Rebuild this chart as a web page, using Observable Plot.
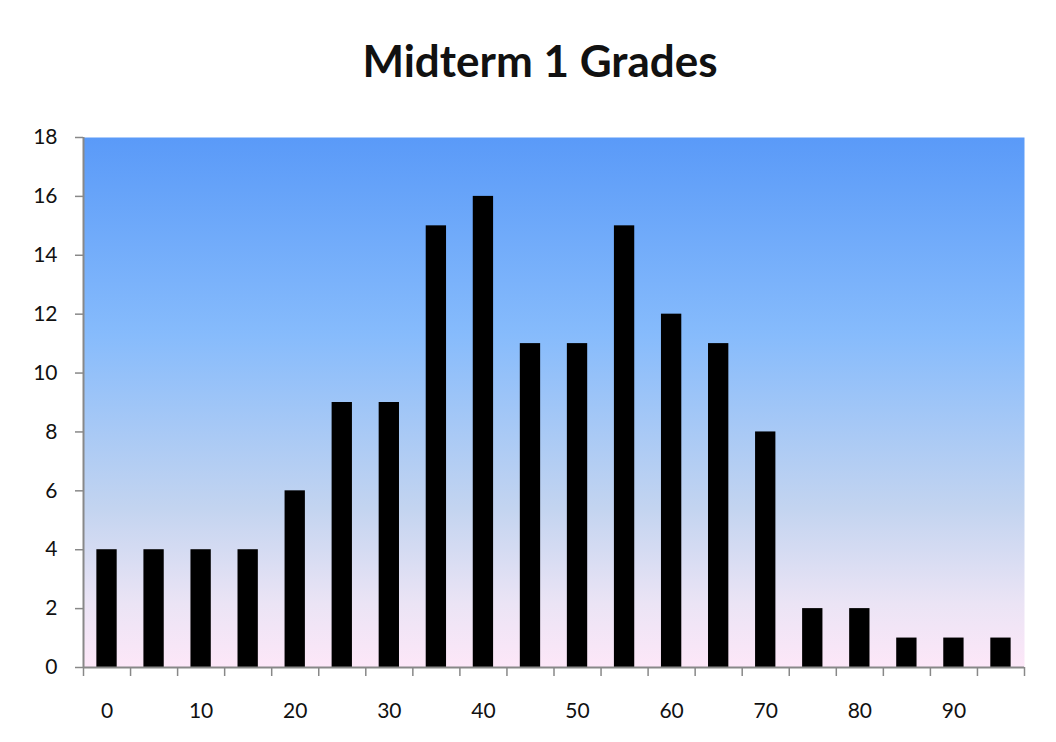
<!DOCTYPE html>
<html>
<head>
<meta charset="utf-8">
<script src="https://cdn.jsdelivr.net/npm/d3@7"></script>
<script src="https://cdn.jsdelivr.net/npm/@observablehq/plot@0.6"></script>
<style>
  html, body { margin: 0; padding: 0; background: #fff; }
  #title { height: 100px; box-sizing: border-box; padding-top: 38px; padding-left: 24px; text-align: center;
           font-family: Lato, "Open Sans", sans-serif; font-weight: 700; font-size: 44px; color: #111; line-height: 1; }
  #chart svg { display: block; }
</style>
</head>
<body>
<div id="title">Midterm 1 Grades</div>
<div id="chart"></div>
<script>
const grades = [0, 5, 10, 15, 20, 25, 30, 35, 40, 45, 50, 55, 60, 65, 70, 75, 80, 85, 90, 95];
const counts = [4, 4, 4, 4, 6, 9, 9, 15, 16, 11, 11, 15, 12, 11, 8, 2, 2, 1, 1, 1];
const xTickLabels = [0, 10, 20, 30, 40, 50, 60, 70, 80, 90];
const yTicks = [0, 2, 4, 6, 8, 10, 12, 14, 16, 18];
const binEdges = grades.map(g => g - 2.5).concat([97.5]);

const data = grades.map((g, i) => ({grade: g, count: counts[i]}));
const halfBar = 1.08;

const plot = Plot.plot({
  width: 1056,
  height: 642,
  marginTop: 37,
  marginBottom: 75,
  marginLeft: 83,
  marginRight: 32,
  style: {fontFamily: "Lato, 'Open Sans', sans-serif", fontSize: "21px", color: "#111", background: "transparent"},
  x: {domain: [-2.5, 97.5]},
  y: {domain: [0, 18]},
  marks: [
    Plot.frame({fill: "url(#bgGrad)", stroke: null}),
    Plot.rectY(data, {x1: d => d.grade - halfBar, x2: d => d.grade + halfBar, y: "count", fill: "#000"}),
    Plot.axisY({ticks: yTicks, tickSize: 8, tickPadding: 18, stroke: "#888", strokeWidth: 1.5, fill: "#111", fontSize: 21, label: null}),
    Plot.axisX({ticks: binEdges, tickSize: 9, tickFormat: () => "", stroke: "#888", strokeWidth: 1.5, label: null}),
    Plot.axisX({ticks: xTickLabels, tickSize: 0, tickPadding: 36, fill: "#111", fontSize: 21, label: null}),
    Plot.ruleY([0], {stroke: "#888", strokeWidth: 2}),
    Plot.ruleX([-2.5], {stroke: "#888", strokeWidth: 2})
  ]
});

const svg = d3.select(plot);
const defs = svg.insert("defs", ":first-child");
const grad = defs.append("linearGradient").attr("id", "bgGrad")
  .attr("x1", 0).attr("y1", 0).attr("x2", 0).attr("y2", 1);
[[0, "#5a9af8"], [0.37, "#86bbfc"], [0.7, "#c3d4f0"], [0.88, "#ebe4f5"], [1, "#fde7f8"]]
  .forEach(([o, c]) => grad.append("stop").attr("offset", o).attr("stop-color", c));

document.getElementById("chart").appendChild(plot);
</script>
</body>
</html>
